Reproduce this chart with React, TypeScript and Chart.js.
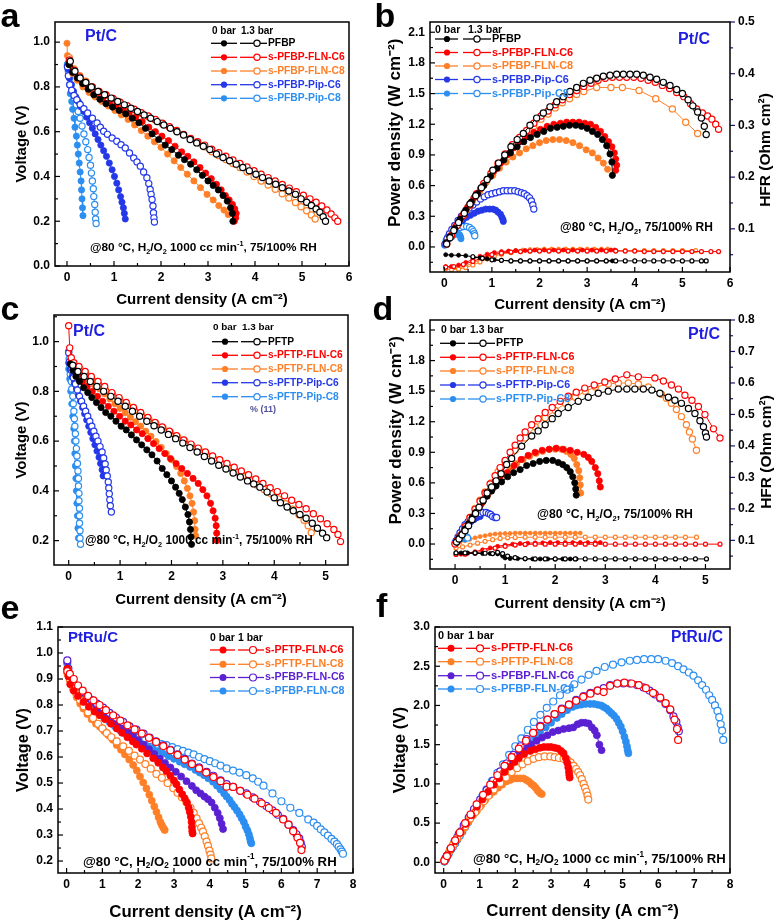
import React, { useEffect, useRef } from 'react';
import { Chart, registerables } from 'chart.js';
Chart.register(...registerables);

const FONT = '"Liberation Sans", Arial, Helvetica, sans-serif';
const BLACK = '#000000', RED = '#ff0000', ORANGE = '#ff7f27', BLUE = '#2438e8', LBLUE = '#2b8ef0', PURPLE = '#5a20d2', TAGBLUE = '#1f1fe0';

type Pt = [number, number];
type Seg = [string, number];

// ================= Panel a : V vs I (Pt/C, PFBP family) =================
const aK0: Pt[] = [[0.04,0.9],[0.12,0.865],[0.22,0.84],[0.33,0.815],[0.45,0.79],[0.57,0.765],[0.7,0.745],[0.83,0.725],[0.97,0.71],[1.11,0.695],[1.25,0.68],[1.39,0.66],[1.53,0.64],[1.67,0.615],[1.81,0.59],[1.95,0.565],[2.09,0.54],[2.23,0.52],[2.37,0.495],[2.5,0.475],[2.63,0.455],[2.76,0.43],[2.88,0.405],[3.0,0.38],[3.11,0.36],[3.22,0.34],[3.32,0.315],[3.41,0.29],[3.48,0.26],[3.52,0.235],[3.53,0.2]];
const aK1: Pt[] = [[0.07,0.915],[0.17,0.87],[0.28,0.84],[0.4,0.82],[0.52,0.8],[0.66,0.78],[0.8,0.765],[0.94,0.75],[1.08,0.735],[1.22,0.72],[1.36,0.705],[1.5,0.69],[1.64,0.675],[1.78,0.66],[1.92,0.645],[2.06,0.63],[2.2,0.615],[2.34,0.6],[2.48,0.585],[2.62,0.565],[2.76,0.55],[2.9,0.535],[3.04,0.52],[3.18,0.5],[3.32,0.485],[3.46,0.47],[3.6,0.455],[3.74,0.44],[3.88,0.425],[4.02,0.41],[4.16,0.395],[4.3,0.38],[4.44,0.365],[4.58,0.35],[4.72,0.335],[4.86,0.32],[4.98,0.3],[5.1,0.285],[5.2,0.27],[5.3,0.255],[5.38,0.24],[5.45,0.22],[5.5,0.2]];
const aR0: Pt[] = [[0.04,0.91],[0.13,0.87],[0.24,0.84],[0.36,0.815],[0.49,0.79],[0.62,0.77],[0.76,0.75],[0.9,0.73],[1.04,0.715],[1.18,0.7],[1.32,0.685],[1.46,0.665],[1.6,0.645],[1.74,0.62],[1.88,0.6],[2.02,0.58],[2.16,0.56],[2.3,0.535],[2.44,0.51],[2.57,0.49],[2.7,0.465],[2.83,0.44],[2.95,0.415],[3.07,0.39],[3.18,0.365],[3.28,0.34],[3.37,0.315],[3.45,0.295],[3.52,0.275],[3.57,0.255],[3.6,0.235],[3.59,0.215],[3.56,0.2]];
const aR1: Pt[] = [[0.05,0.92],[0.15,0.875],[0.27,0.845],[0.4,0.82],[0.54,0.8],[0.68,0.78],[0.83,0.765],[0.98,0.748],[1.13,0.732],[1.28,0.716],[1.43,0.7],[1.58,0.685],[1.73,0.67],[1.88,0.655],[2.03,0.638],[2.18,0.622],[2.33,0.605],[2.48,0.588],[2.63,0.57],[2.78,0.555],[2.93,0.54],[3.08,0.522],[3.23,0.506],[3.38,0.49],[3.53,0.474],[3.68,0.458],[3.83,0.442],[3.98,0.426],[4.13,0.41],[4.28,0.395],[4.43,0.38],[4.58,0.364],[4.73,0.348],[4.88,0.332],[5.03,0.316],[5.17,0.3],[5.3,0.285],[5.42,0.268],[5.53,0.25],[5.62,0.232],[5.7,0.215],[5.76,0.2]];
const aO0: Pt[] = [[0,0.995],[0.01,0.94],[0.04,0.9],[0.12,0.86],[0.22,0.83],[0.34,0.8],[0.47,0.775],[0.6,0.755],[0.74,0.735],[0.88,0.715],[1.02,0.695],[1.16,0.675],[1.3,0.655],[1.44,0.63],[1.58,0.605],[1.72,0.58],[1.86,0.555],[2.0,0.53],[2.14,0.5],[2.28,0.47],[2.42,0.44],[2.56,0.41],[2.7,0.38],[2.84,0.35],[2.98,0.32],[3.11,0.295],[3.23,0.27],[3.34,0.25],[3.43,0.23]];
const aO1: Pt[] = [[0.05,0.93],[0.15,0.88],[0.27,0.85],[0.4,0.825],[0.54,0.8],[0.68,0.78],[0.83,0.762],[0.98,0.745],[1.13,0.728],[1.28,0.712],[1.43,0.697],[1.58,0.682],[1.73,0.667],[1.88,0.652],[2.03,0.636],[2.18,0.62],[2.33,0.604],[2.48,0.587],[2.63,0.568],[2.78,0.55],[2.93,0.532],[3.08,0.51],[3.23,0.493],[3.38,0.476],[3.53,0.458],[3.68,0.44],[3.83,0.42],[3.98,0.4],[4.13,0.38],[4.28,0.362],[4.43,0.343],[4.58,0.323],[4.72,0.304],[4.86,0.284],[4.98,0.265],[5.1,0.247],[5.2,0.228],[5.28,0.21]];
const aB0: Pt[] = [[0.02,0.88],[0.05,0.84],[0.09,0.81],[0.14,0.78],[0.19,0.755],[0.24,0.735],[0.3,0.71],[0.36,0.69],[0.42,0.665],[0.48,0.64],[0.54,0.615],[0.6,0.59],[0.66,0.565],[0.72,0.54],[0.78,0.515],[0.84,0.49],[0.9,0.46],[0.96,0.43],[1.01,0.4],[1.06,0.37],[1.1,0.34],[1.14,0.31],[1.17,0.285],[1.2,0.26],[1.22,0.235],[1.24,0.21]];
const aB1: Pt[] = [[0.01,0.89],[0.03,0.85],[0.06,0.81],[0.1,0.785],[0.15,0.762],[0.21,0.743],[0.28,0.722],[0.36,0.703],[0.44,0.684],[0.54,0.66],[0.64,0.639],[0.71,0.62],[0.78,0.602],[0.86,0.588],[0.96,0.572],[1.06,0.557],[1.15,0.542],[1.24,0.527],[1.33,0.505],[1.42,0.483],[1.49,0.465],[1.56,0.446],[1.63,0.42],[1.7,0.394],[1.74,0.368],[1.77,0.342],[1.79,0.32],[1.81,0.297],[1.83,0.268],[1.84,0.238],[1.85,0.215],[1.86,0.196]];
const aL0: Pt[] = [[0.01,0.89],[0.03,0.85],[0.05,0.81],[0.07,0.77],[0.1,0.735],[0.12,0.7],[0.15,0.66],[0.17,0.62],[0.2,0.58],[0.22,0.54],[0.24,0.5],[0.26,0.46],[0.28,0.42],[0.3,0.38],[0.31,0.34],[0.32,0.3],[0.33,0.26],[0.34,0.225]];
const aL1: Pt[] = [[0.01,0.9],[0.03,0.87],[0.06,0.84],[0.09,0.81],[0.12,0.78],[0.16,0.75],[0.2,0.72],[0.24,0.69],[0.28,0.66],[0.32,0.625],[0.36,0.59],[0.4,0.555],[0.44,0.52],[0.47,0.485],[0.5,0.45],[0.52,0.415],[0.54,0.38],[0.56,0.345],[0.57,0.31],[0.59,0.275],[0.6,0.24],[0.61,0.21],[0.62,0.19]];

// ================= Panel b : P vs I + HFR =================
const bK0: Pt[] = [[0.04,0.04],[0.12,0.1],[0.22,0.18],[0.33,0.27],[0.45,0.36],[0.57,0.44],[0.7,0.52],[0.83,0.6],[0.97,0.69],[1.11,0.77],[1.25,0.85],[1.39,0.92],[1.53,0.98],[1.67,1.03],[1.81,1.07],[1.95,1.1],[2.09,1.13],[2.23,1.16],[2.37,1.17],[2.5,1.18],[2.63,1.19],[2.76,1.19],[2.88,1.18],[3.0,1.16],[3.11,1.13],[3.22,1.1],[3.32,1.05],[3.41,0.99],[3.48,0.91],[3.52,0.83],[3.53,0.7]];
const bK1: Pt[] = [[0.05,0.03],[0.12,0.09],[0.2,0.16],[0.3,0.24],[0.42,0.33],[0.54,0.42],[0.66,0.5],[0.78,0.58],[0.9,0.66],[1.02,0.75],[1.14,0.82],[1.27,0.9],[1.4,0.98],[1.53,1.05],[1.66,1.11],[1.8,1.19],[1.94,1.26],[2.08,1.31],[2.22,1.37],[2.36,1.42],[2.5,1.47],[2.64,1.52],[2.78,1.56],[2.92,1.6],[3.06,1.63],[3.2,1.65],[3.34,1.67],[3.48,1.68],[3.62,1.69],[3.76,1.69],[3.9,1.69],[4.04,1.69],[4.18,1.68],[4.32,1.66],[4.46,1.64],[4.6,1.61],[4.74,1.58],[4.88,1.54],[5.0,1.5],[5.12,1.44],[5.22,1.38],[5.32,1.32],[5.4,1.26],[5.46,1.18],[5.5,1.1]];
const bR0: Pt[] = [[0.04,0.04],[0.13,0.11],[0.24,0.2],[0.36,0.29],[0.49,0.39],[0.62,0.48],[0.76,0.57],[0.9,0.66],[1.04,0.74],[1.18,0.82],[1.32,0.9],[1.46,0.97],[1.6,1.03],[1.74,1.08],[1.88,1.12],[2.02,1.15],[2.16,1.18],[2.3,1.2],[2.44,1.21],[2.57,1.22],[2.7,1.22],[2.83,1.22],[2.95,1.21],[3.07,1.2],[3.18,1.17],[3.28,1.13],[3.37,1.08],[3.45,1.03],[3.52,0.98],[3.57,0.92],[3.6,0.86],[3.62,0.8],[3.6,0.75]];
const bR1: Pt[] = [[0.05,0.03],[0.15,0.11],[0.27,0.21],[0.4,0.31],[0.54,0.41],[0.68,0.52],[0.83,0.62],[0.98,0.72],[1.13,0.82],[1.28,0.91],[1.43,1.0],[1.58,1.07],[1.73,1.14],[1.88,1.21],[2.03,1.28],[2.18,1.33],[2.33,1.39],[2.48,1.44],[2.63,1.49],[2.78,1.53],[2.93,1.57],[3.08,1.6],[3.23,1.63],[3.38,1.65],[3.53,1.66],[3.68,1.66],[3.83,1.66],[3.98,1.66],[4.13,1.65],[4.28,1.63],[4.43,1.61],[4.58,1.58],[4.73,1.55],[4.88,1.51],[5.03,1.47],[5.17,1.4],[5.3,1.35],[5.42,1.31],[5.53,1.28],[5.62,1.25],[5.7,1.2],[5.76,1.15]];
const bO0: Pt[] = [[0.04,0.04],[0.12,0.1],[0.22,0.18],[0.34,0.27],[0.47,0.36],[0.6,0.45],[0.74,0.54],[0.88,0.63],[1.02,0.7],[1.16,0.77],[1.3,0.83],[1.44,0.88],[1.58,0.92],[1.72,0.96],[1.86,0.99],[2.0,1.02],[2.14,1.04],[2.28,1.05],[2.42,1.05],[2.56,1.04],[2.7,1.02],[2.84,0.99],[2.98,0.95],[3.11,0.92],[3.23,0.87],[3.34,0.82],[3.43,0.76]];
const bO1: Pt[] = [[0.05,0.03],[0.15,0.11],[0.27,0.21],[0.4,0.31],[0.54,0.41],[0.68,0.51],[0.83,0.61],[0.98,0.71],[1.13,0.8],[1.28,0.89],[1.43,0.98],[1.58,1.05],[1.73,1.12],[1.88,1.18],[2.03,1.25],[2.18,1.3],[2.33,1.36],[2.48,1.41],[2.63,1.45],[2.78,1.49],[2.93,1.52],[3.2,1.56],[3.5,1.56],[3.74,1.56],[4.09,1.53],[4.44,1.45],[4.79,1.35],[5.07,1.22],[5.32,1.11]];
const bB0: Pt[] = [[0.02,0.03],[0.06,0.07],[0.11,0.11],[0.17,0.15],[0.24,0.19],[0.31,0.23],[0.39,0.26],[0.47,0.29],[0.55,0.31],[0.63,0.33],[0.71,0.35],[0.79,0.36],[0.87,0.37],[0.95,0.37],[1.02,0.37],[1.08,0.36],[1.13,0.34],[1.18,0.32],[1.21,0.29],[1.23,0.27],[1.24,0.25]];
const bB1: Pt[] = [[0.02,0.03],[0.06,0.08],[0.11,0.13],[0.16,0.17],[0.22,0.21],[0.29,0.26],[0.36,0.3],[0.44,0.34],[0.52,0.38],[0.6,0.41],[0.68,0.44],[0.76,0.47],[0.84,0.49],[0.92,0.51],[1.0,0.52],[1.08,0.53],[1.16,0.54],[1.24,0.55],[1.32,0.55],[1.4,0.55],[1.48,0.55],[1.55,0.54],[1.62,0.53],[1.68,0.52],[1.74,0.5],[1.79,0.48],[1.83,0.45],[1.86,0.41],[1.88,0.37]];
const bL0: Pt[] = [[0.01,0.02],[0.05,0.05],[0.1,0.08],[0.16,0.1],[0.22,0.12],[0.28,0.13],[0.32,0.12],[0.34,0.1],[0.35,0.08]];
const bL1: Pt[] = [[0.01,0.02],[0.04,0.06],[0.08,0.1],[0.13,0.13],[0.19,0.16],[0.26,0.18],[0.33,0.19],[0.4,0.2],[0.47,0.2],[0.53,0.19],[0.58,0.17],[0.61,0.15],[0.63,0.13],[0.64,0.11]];
const bHK0: Pt[] = [[0.03,0.05],[0.15,0.049],[0.3,0.049],[0.45,0.048],[0.6,0.046],[0.75,0.044],[0.9,0.042],[1.05,0.04],[1.2,0.039],[1.4,0.038],[1.6,0.038],[1.8,0.038],[2.0,0.038],[2.2,0.038],[2.4,0.038],[2.6,0.038],[2.8,0.038],[3.0,0.038],[3.2,0.038],[3.4,0.038],[3.53,0.038]];
const bHK1: Pt[] = [[0.6,0.046],[0.8,0.043],[1.0,0.04],[1.2,0.039],[1.4,0.038],[1.6,0.038],[1.8,0.038],[2.0,0.038],[2.2,0.038],[2.4,0.038],[2.6,0.038],[2.8,0.038],[3.0,0.038],[3.2,0.038],[3.4,0.038],[3.6,0.038],[3.8,0.038],[4.0,0.038],[4.2,0.038],[4.4,0.038],[4.6,0.038],[4.8,0.038],[5.0,0.038],[5.2,0.038],[5.4,0.038],[5.5,0.038]];
const bHR0: Pt[] = [[0.03,0.027],[0.15,0.027],[0.3,0.03],[0.45,0.035],[0.6,0.041],[0.75,0.047],[0.9,0.051],[1.05,0.054],[1.2,0.056],[1.35,0.057],[1.5,0.058],[1.7,0.058],[1.9,0.059],[2.1,0.059],[2.3,0.059],[2.5,0.059],[2.7,0.059],[2.9,0.059],[3.1,0.059],[3.3,0.059],[3.5,0.059],[3.58,0.059]];
const bHR1: Pt[] = [[0.03,0.026],[0.2,0.027],[0.4,0.031],[0.6,0.037],[0.8,0.044],[1.0,0.05],[1.2,0.053],[1.4,0.055],[1.6,0.056],[1.8,0.057],[2.0,0.057],[2.2,0.057],[2.4,0.057],[2.6,0.057],[2.8,0.057],[3.0,0.057],[3.2,0.057],[3.4,0.057],[3.6,0.057],[3.8,0.057],[4.0,0.057],[4.2,0.056],[4.4,0.056],[4.6,0.056],[4.8,0.056],[5.0,0.056],[5.2,0.056],[5.4,0.056],[5.6,0.056],[5.76,0.056]];
const bHO0: Pt[] = [[0.03,0.022],[0.15,0.022],[0.3,0.024],[0.45,0.028],[0.6,0.034],[0.75,0.04],[0.9,0.046],[1.05,0.05],[1.2,0.053],[1.35,0.056],[1.5,0.058],[1.65,0.059],[1.8,0.06],[1.95,0.06],[2.1,0.061],[2.25,0.061],[2.4,0.061],[2.55,0.061],[2.7,0.061],[2.85,0.061],[3.0,0.061],[3.15,0.061],[3.3,0.061],[3.43,0.061]];
const bHO1: Pt[] = [[0.15,0.021],[0.3,0.022],[0.45,0.025],[0.6,0.03],[0.75,0.036],[0.9,0.042],[1.05,0.047],[1.2,0.051],[1.4,0.054],[1.6,0.056],[1.8,0.057],[2.0,0.058],[2.2,0.058],[2.4,0.058],[2.6,0.058],[2.8,0.058],[3.0,0.058],[3.2,0.058],[3.4,0.058],[3.6,0.058],[3.8,0.058],[4.0,0.058],[4.2,0.058],[4.4,0.058],[4.6,0.058],[4.8,0.058],[5.0,0.058],[5.28,0.058]];

// ================= Panel c : V vs I (Pt/C, PFTP family) =================
const cK0: Pt[] = [[0.03,0.91],[0.08,0.885],[0.14,0.86],[0.21,0.84],[0.29,0.815],[0.37,0.795],[0.45,0.775],[0.54,0.755],[0.63,0.735],[0.72,0.715],[0.82,0.7],[0.92,0.68],[1.02,0.66],[1.12,0.645],[1.22,0.625],[1.32,0.605],[1.42,0.585],[1.52,0.565],[1.62,0.545],[1.72,0.52],[1.82,0.49],[1.91,0.465],[2.0,0.44],[2.08,0.415],[2.15,0.39],[2.21,0.365],[2.27,0.335],[2.32,0.305],[2.35,0.275],[2.37,0.245],[2.38,0.215],[2.39,0.185]];
const cK1: Pt[] = [[0.08,0.905],[0.18,0.88],[0.3,0.86],[0.42,0.84],[0.55,0.82],[0.68,0.8],[0.82,0.78],[0.96,0.76],[1.1,0.74],[1.24,0.72],[1.38,0.7],[1.52,0.68],[1.66,0.662],[1.8,0.645],[1.94,0.627],[2.08,0.61],[2.22,0.592],[2.36,0.574],[2.5,0.556],[2.64,0.538],[2.78,0.52],[2.92,0.503],[3.06,0.488],[3.2,0.472],[3.34,0.456],[3.48,0.44],[3.6,0.428],[3.72,0.415],[3.86,0.395],[4.0,0.372],[4.12,0.352],[4.25,0.335],[4.37,0.32],[4.5,0.305],[4.62,0.29],[4.74,0.27],[4.84,0.25],[4.94,0.23],[5.02,0.212]];
const cR0: Pt[] = [[0.04,0.915],[0.1,0.89],[0.18,0.865],[0.27,0.84],[0.36,0.82],[0.46,0.8],[0.56,0.78],[0.66,0.76],[0.77,0.74],[0.88,0.72],[0.99,0.7],[1.1,0.68],[1.21,0.665],[1.32,0.645],[1.43,0.63],[1.54,0.61],[1.65,0.59],[1.76,0.57],[1.87,0.55],[1.98,0.53],[2.09,0.51],[2.2,0.49],[2.31,0.47],[2.42,0.45],[2.52,0.43],[2.61,0.405],[2.69,0.38],[2.76,0.35],[2.81,0.32],[2.85,0.29],[2.87,0.26],[2.88,0.23],[2.88,0.2]];
const cR1: Pt[] = [[0,1.064],[0.02,0.975],[0.05,0.935],[0.1,0.915],[0.2,0.9],[0.32,0.88],[0.44,0.86],[0.57,0.84],[0.7,0.82],[0.84,0.795],[0.98,0.775],[1.12,0.755],[1.26,0.735],[1.4,0.715],[1.54,0.695],[1.68,0.675],[1.82,0.657],[1.96,0.64],[2.1,0.622],[2.24,0.605],[2.38,0.588],[2.52,0.572],[2.66,0.556],[2.8,0.54],[2.94,0.525],[3.08,0.51],[3.22,0.495],[3.36,0.48],[3.5,0.465],[3.64,0.448],[3.78,0.43],[3.92,0.413],[4.06,0.397],[4.2,0.38],[4.34,0.362],[4.48,0.345],[4.62,0.328],[4.76,0.308],[4.9,0.288],[5.03,0.268],[5.16,0.245],[5.24,0.225],[5.29,0.196]];
const cO0: Pt[] = [[0.1,0.9],[0.2,0.88],[0.3,0.86],[0.4,0.843],[0.5,0.826],[0.6,0.81],[0.7,0.79],[0.8,0.77],[0.9,0.75],[1.0,0.732],[1.1,0.714],[1.2,0.696],[1.3,0.678],[1.4,0.66],[1.5,0.64],[1.6,0.62],[1.7,0.598],[1.8,0.575],[1.9,0.55],[2.0,0.525],[2.1,0.498],[2.18,0.47],[2.25,0.44],[2.31,0.41],[2.36,0.38],[2.4,0.35],[2.43,0.315],[2.45,0.28],[2.46,0.245],[2.47,0.22]];
const cO1: Pt[] = [[0.1,0.9],[0.22,0.89],[0.33,0.87],[0.45,0.85],[0.58,0.83],[0.72,0.805],[0.86,0.785],[1.0,0.765],[1.14,0.745],[1.28,0.725],[1.42,0.705],[1.56,0.687],[1.7,0.67],[1.84,0.652],[1.98,0.635],[2.12,0.617],[2.26,0.6],[2.4,0.582],[2.54,0.565],[2.68,0.548],[2.82,0.53],[2.96,0.513],[3.1,0.496],[3.24,0.478],[3.38,0.46],[3.52,0.442],[3.66,0.424],[3.8,0.406],[3.94,0.388],[4.08,0.368],[4.22,0.348],[4.36,0.326],[4.48,0.304],[4.58,0.282],[4.66,0.26],[4.72,0.232]];
const cB0: Pt[] = [[0,0.915],[0.03,0.89],[0.07,0.86],[0.11,0.835],[0.15,0.81],[0.19,0.785],[0.23,0.76],[0.27,0.735],[0.31,0.71],[0.35,0.685],[0.39,0.66],[0.43,0.635],[0.47,0.61],[0.51,0.585],[0.55,0.56],[0.59,0.535],[0.62,0.51],[0.65,0.485],[0.67,0.46]];
const cB1: Pt[] = [[0,0.955],[0.02,0.92],[0.05,0.885],[0.09,0.855],[0.13,0.83],[0.17,0.805],[0.21,0.78],[0.25,0.76],[0.29,0.74],[0.33,0.72],[0.37,0.7],[0.41,0.68],[0.45,0.66],[0.49,0.64],[0.53,0.62],[0.57,0.6],[0.61,0.578],[0.65,0.556],[0.68,0.532],[0.71,0.508],[0.73,0.484],[0.75,0.46],[0.77,0.436],[0.78,0.412],[0.79,0.388],[0.8,0.364],[0.81,0.34],[0.83,0.315]];
const cL0: Pt[] = [[0,0.89],[0.02,0.85],[0.04,0.8],[0.06,0.75],[0.08,0.7],[0.1,0.65],[0.11,0.6],[0.12,0.55],[0.13,0.5],[0.14,0.45],[0.15,0.4],[0.16,0.35],[0.17,0.3],[0.18,0.25],[0.19,0.21]];
const cL1: Pt[] = [[0,0.96],[0.01,0.93],[0.02,0.9],[0.03,0.87],[0.05,0.84],[0.06,0.81],[0.08,0.78],[0.09,0.75],[0.1,0.72],[0.11,0.69],[0.12,0.66],[0.13,0.63],[0.14,0.6],[0.15,0.57],[0.16,0.54],[0.17,0.51],[0.18,0.48],[0.19,0.45],[0.19,0.42],[0.2,0.39],[0.2,0.36],[0.21,0.33],[0.21,0.3],[0.21,0.27],[0.22,0.24],[0.22,0.21],[0.23,0.185]];

// ================= Panel d : P vs I + HFR =================
const dK0: Pt[] = [[0.03,0.02],[0.08,0.06],[0.14,0.1],[0.2,0.15],[0.27,0.2],[0.34,0.26],[0.41,0.31],[0.48,0.36],[0.56,0.42],[0.64,0.47],[0.73,0.52],[0.82,0.57],[0.93,0.61],[1.05,0.66],[1.17,0.7],[1.3,0.73],[1.43,0.77],[1.56,0.79],[1.69,0.81],[1.82,0.82],[1.95,0.82],[2.06,0.8],[2.15,0.78],[2.23,0.75],[2.3,0.71],[2.35,0.66],[2.39,0.6],[2.41,0.54],[2.42,0.48]];
const dK1: Pt[] = [[0.03,0.02],[0.08,0.05],[0.14,0.09],[0.2,0.13],[0.27,0.18],[0.34,0.24],[0.41,0.3],[0.48,0.36],[0.56,0.43],[0.64,0.5],[0.73,0.56],[0.82,0.62],[0.92,0.69],[1.03,0.78],[1.13,0.84],[1.33,0.96],[1.53,1.06],[1.66,1.11],[1.8,1.17],[1.94,1.23],[2.06,1.28],[2.26,1.34],[2.46,1.4],[2.66,1.44],[2.86,1.48],[3.06,1.5],[3.26,1.52],[3.43,1.52],[3.59,1.52],[3.76,1.52],[3.93,1.51],[4.09,1.48],[4.26,1.44],[4.39,1.41],[4.52,1.38],[4.66,1.33],[4.79,1.28],[4.89,1.21],[4.96,1.15],[5.0,1.09],[5.02,1.05]];
const dR0: Pt[] = [[0.03,0.02],[0.1,0.07],[0.2,0.15],[0.3,0.23],[0.4,0.31],[0.52,0.39],[0.64,0.47],[0.76,0.55],[0.9,0.63],[1.04,0.7],[1.18,0.77],[1.32,0.83],[1.46,0.87],[1.6,0.9],[1.74,0.92],[1.88,0.93],[2.02,0.94],[2.16,0.93],[2.3,0.92],[2.44,0.9],[2.57,0.88],[2.66,0.85],[2.73,0.81],[2.8,0.75],[2.85,0.69],[2.88,0.62],[2.9,0.56]];
const dR1: Pt[] = [[0,0],[0.05,0.04],[0.1,0.08],[0.2,0.17],[0.3,0.26],[0.4,0.34],[0.5,0.42],[0.6,0.5],[0.7,0.59],[0.8,0.67],[0.9,0.75],[1.0,0.82],[1.1,0.9],[1.2,0.97],[1.3,1.04],[1.4,1.1],[1.53,1.17],[1.66,1.23],[1.8,1.29],[1.94,1.34],[2.1,1.4],[2.26,1.45],[2.42,1.49],[2.59,1.53],[2.78,1.56],[2.99,1.59],[3.2,1.62],[3.43,1.66],[3.66,1.64],[3.99,1.63],[4.16,1.6],[4.32,1.56],[4.46,1.52],[4.59,1.46],[4.73,1.41],[4.86,1.35],[4.99,1.27],[5.16,1.13],[5.29,1.04]];
const dO0: Pt[] = [[0.03,0.02],[0.1,0.07],[0.18,0.13],[0.27,0.2],[0.36,0.27],[0.45,0.34],[0.55,0.41],[0.65,0.48],[0.76,0.55],[0.87,0.62],[0.99,0.68],[1.11,0.74],[1.23,0.79],[1.36,0.83],[1.49,0.86],[1.62,0.89],[1.75,0.91],[1.88,0.93],[2.0,0.93],[2.12,0.93],[2.22,0.91],[2.31,0.88],[2.38,0.84],[2.43,0.78],[2.47,0.72],[2.49,0.65],[2.5,0.58],[2.51,0.5]];
const dO1: Pt[] = [[0.03,0.02],[0.1,0.08],[0.2,0.17],[0.3,0.26],[0.4,0.35],[0.5,0.43],[0.6,0.51],[0.72,0.6],[0.86,0.71],[1.0,0.8],[1.2,0.92],[1.4,1.04],[1.6,1.15],[1.8,1.24],[2.0,1.31],[2.2,1.38],[2.4,1.44],[2.6,1.5],[2.8,1.54],[3.06,1.57],[3.26,1.58],[3.46,1.58],[3.66,1.57],[3.86,1.54],[4.12,1.47],[4.22,1.43],[4.32,1.38],[4.42,1.32],[4.52,1.25],[4.62,1.17],[4.68,1.1],[4.74,1.03],[4.82,0.92]];
const dB0: Pt[] = [[0.02,0.02],[0.06,0.05],[0.1,0.09],[0.15,0.13],[0.2,0.16],[0.26,0.19],[0.32,0.22],[0.38,0.24],[0.44,0.26],[0.5,0.27]];
const dB1: Pt[] = [[0.02,0.03],[0.06,0.07],[0.1,0.11],[0.15,0.15],[0.2,0.19],[0.26,0.22],[0.32,0.25],[0.38,0.27],[0.44,0.29],[0.5,0.3],[0.56,0.31],[0.62,0.31],[0.67,0.3],[0.71,0.29],[0.75,0.27],[0.8,0.26],[0.83,0.26]];
const dL0: Pt[] = [[0,0.005],[0.04,0.03],[0.08,0.05],[0.12,0.06],[0.16,0.06],[0.19,0.05]];
const dL1: Pt[] = [[0,0.01],[0.04,0.04],[0.08,0.06],[0.12,0.07],[0.16,0.075],[0.2,0.075],[0.23,0.07],[0.25,0.06]];
const dHK0: Pt[] = [[0.02,0.06],[0.12,0.06],[0.25,0.06],[0.4,0.059],[0.55,0.058],[0.7,0.058],[0.85,0.057],[0.95,0.05],[1.0,0.044],[1.1,0.042],[1.25,0.042],[1.4,0.041],[1.55,0.041],[1.7,0.041],[1.85,0.041],[2.0,0.041],[2.15,0.041],[2.3,0.041],[2.42,0.041]];
const dHK1: Pt[] = [[0.02,0.06],[0.2,0.06],[0.4,0.06],[0.6,0.059],[0.75,0.058],[0.85,0.062],[0.95,0.058],[1.05,0.05],[1.2,0.045],[1.4,0.042],[1.6,0.041],[1.8,0.041],[2.0,0.041],[2.2,0.041],[2.4,0.041],[2.6,0.041],[2.8,0.041],[3.0,0.041],[3.2,0.041],[3.4,0.041],[3.6,0.041],[3.8,0.041],[4.0,0.041],[4.2,0.041],[4.4,0.041],[4.6,0.041],[4.8,0.041],[5.02,0.041]];
const dHR0: Pt[] = [[0.02,0.055],[0.12,0.056],[0.25,0.059],[0.4,0.064],[0.55,0.07],[0.7,0.076],[0.85,0.081],[1.0,0.085],[1.15,0.088],[1.3,0.09],[1.45,0.091],[1.6,0.092],[1.75,0.092],[1.9,0.093],[2.05,0.093],[2.2,0.093],[2.35,0.093],[2.5,0.093],[2.65,0.093],[2.8,0.093],[2.9,0.093]];
const dHR1: Pt[] = [[0.02,0.055],[0.2,0.056],[0.4,0.06],[0.6,0.067],[0.8,0.075],[1.0,0.081],[1.2,0.085],[1.4,0.087],[1.6,0.088],[1.8,0.088],[2.0,0.088],[2.2,0.088],[2.4,0.088],[2.6,0.088],[2.8,0.088],[3.0,0.088],[3.2,0.088],[3.4,0.088],[3.6,0.088],[3.8,0.088],[4.0,0.088],[4.2,0.088],[4.4,0.088],[4.6,0.088],[4.8,0.088],[5.0,0.088],[5.29,0.088]];
const dHO0: Pt[] = [[0.02,0.092],[0.1,0.094],[0.2,0.099],[0.3,0.104],[0.4,0.108],[0.5,0.112],[0.6,0.115],[0.7,0.118],[0.8,0.12],[0.9,0.121],[1.0,0.122],[1.1,0.122],[1.2,0.123],[1.3,0.123],[1.4,0.123],[1.5,0.123],[1.6,0.123],[1.7,0.123],[1.8,0.123],[1.9,0.123],[2.0,0.123],[2.1,0.123],[2.2,0.123],[2.3,0.123],[2.4,0.123],[2.5,0.123]];
const dHO1: Pt[] = [[0.02,0.076],[0.15,0.079],[0.3,0.085],[0.45,0.091],[0.6,0.097],[0.75,0.102],[0.9,0.106],[1.05,0.108],[1.2,0.109],[1.4,0.11],[1.6,0.11],[1.8,0.11],[2.0,0.11],[2.2,0.11],[2.4,0.11],[2.6,0.11],[2.8,0.11],[3.0,0.11],[3.2,0.11],[3.4,0.11],[3.6,0.11],[3.8,0.11],[4.0,0.11],[4.2,0.11],[4.4,0.11],[4.6,0.11],[4.82,0.11]];

// ================= Panel e : V vs I (PtRu/C) =================
const eR0: Pt[] = [[0.02,0.94],[0.05,0.91],[0.1,0.88],[0.2,0.855],[0.32,0.835],[0.47,0.812],[0.62,0.793],[0.78,0.775],[0.93,0.761],[1.08,0.745],[1.24,0.728],[1.4,0.71],[1.55,0.693],[1.7,0.676],[1.85,0.66],[1.95,0.648],[2.1,0.632],[2.25,0.614],[2.42,0.595],[2.56,0.578],[2.69,0.56],[2.79,0.545],[2.9,0.528],[3.0,0.51],[3.07,0.495],[3.15,0.475],[3.23,0.457],[3.3,0.441],[3.36,0.425],[3.41,0.405],[3.44,0.389],[3.47,0.37],[3.49,0.35],[3.5,0.33],[3.51,0.315],[3.52,0.306]];
const eR1: Pt[] = [[0.02,0.93],[0.09,0.92],[0.2,0.9],[0.32,0.875],[0.45,0.855],[0.6,0.835],[0.75,0.818],[0.92,0.8],[1.1,0.78],[1.3,0.76],[1.5,0.74],[1.7,0.722],[1.9,0.706],[2.1,0.69],[2.3,0.674],[2.5,0.658],[2.7,0.642],[2.9,0.626],[3.1,0.608],[3.3,0.59],[3.5,0.573],[3.7,0.556],[3.9,0.54],[4.1,0.523],[4.3,0.507],[4.47,0.486],[4.65,0.485],[4.85,0.47],[5.05,0.455],[5.25,0.44],[5.45,0.422],[5.65,0.404],[5.85,0.385],[6.05,0.36],[6.2,0.34],[6.33,0.315],[6.45,0.29],[6.52,0.27],[6.56,0.242]];
const eO0: Pt[] = [[0.02,0.92],[0.09,0.895],[0.18,0.86],[0.28,0.83],[0.38,0.805],[0.47,0.786],[0.58,0.765],[0.7,0.745],[0.82,0.728],[0.93,0.716],[1.05,0.7],[1.17,0.684],[1.29,0.666],[1.4,0.646],[1.52,0.628],[1.63,0.61],[1.75,0.59],[1.86,0.569],[1.96,0.548],[2.05,0.525],[2.14,0.502],[2.23,0.479],[2.31,0.455],[2.38,0.432],[2.45,0.41],[2.51,0.389],[2.57,0.368],[2.62,0.35],[2.66,0.338],[2.7,0.328],[2.74,0.319]];
const eO1: Pt[] = [[0.02,0.93],[0.09,0.9],[0.17,0.875],[0.27,0.845],[0.37,0.82],[0.48,0.795],[0.6,0.772],[0.74,0.75],[0.88,0.728],[1.0,0.71],[1.12,0.692],[1.25,0.676],[1.4,0.66],[1.58,0.641],[1.74,0.624],[1.9,0.605],[2.05,0.59],[2.2,0.573],[2.35,0.555],[2.51,0.535],[2.66,0.52],[2.82,0.5],[2.98,0.48],[3.1,0.463],[3.22,0.445],[3.35,0.425],[3.46,0.405],[3.55,0.385],[3.63,0.364],[3.7,0.345],[3.76,0.328],[3.81,0.313],[3.86,0.295],[3.91,0.275],[3.95,0.258],[3.99,0.24],[4.02,0.225],[4.04,0.21]];
const eP0: Pt[] = [[0.02,0.966],[0.05,0.93],[0.1,0.9],[0.18,0.88],[0.27,0.87],[0.37,0.855],[0.48,0.84],[0.6,0.825],[0.72,0.81],[0.84,0.795],[0.96,0.782],[1.1,0.768],[1.25,0.752],[1.4,0.735],[1.55,0.718],[1.7,0.7],[1.85,0.683],[2.0,0.665],[2.15,0.648],[2.3,0.63],[2.45,0.612],[2.6,0.594],[2.75,0.577],[2.9,0.56],[3.05,0.543],[3.2,0.525],[3.35,0.507],[3.5,0.489],[3.62,0.472],[3.74,0.46],[3.85,0.448],[3.95,0.438],[4.05,0.425],[4.14,0.405],[4.22,0.385],[4.28,0.365],[4.33,0.343],[4.37,0.323]];
const eP1: Pt[] = [[0.02,0.972],[0.05,0.94],[0.1,0.91],[0.19,0.885],[0.3,0.865],[0.42,0.85],[0.56,0.835],[0.7,0.82],[0.85,0.805],[1.02,0.79],[1.2,0.77],[1.38,0.752],[1.58,0.735],[1.76,0.718],[1.95,0.705],[2.15,0.69],[2.32,0.675],[2.5,0.66],[2.7,0.645],[2.9,0.628],[3.1,0.61],[3.3,0.593],[3.5,0.575],[3.7,0.56],[3.91,0.543],[4.1,0.528],[4.3,0.51],[4.47,0.496],[4.65,0.485],[4.85,0.47],[5.02,0.46],[5.2,0.445],[5.4,0.428],[5.58,0.412],[5.75,0.395],[5.9,0.378],[6.05,0.362],[6.2,0.34],[6.33,0.319],[6.42,0.303],[6.5,0.287],[6.54,0.27],[6.57,0.255]];
const eL0: Pt[] = [[0.02,0.94],[0.05,0.914],[0.12,0.885],[0.2,0.86],[0.28,0.845],[0.37,0.831],[0.47,0.818],[0.58,0.805],[0.7,0.79],[0.82,0.775],[0.93,0.761],[1.05,0.75],[1.2,0.735],[1.35,0.718],[1.49,0.703],[1.64,0.69],[1.8,0.677],[1.95,0.665],[2.1,0.655],[2.25,0.645],[2.4,0.635],[2.55,0.623],[2.7,0.613],[2.85,0.603],[3.0,0.593],[3.16,0.582],[3.3,0.572],[3.45,0.562],[3.6,0.55],[3.72,0.54],[3.84,0.53],[3.96,0.518],[4.09,0.505],[4.2,0.49],[4.3,0.475],[4.4,0.46],[4.47,0.448],[4.55,0.435],[4.62,0.42],[4.69,0.408],[4.76,0.394],[4.83,0.38],[4.89,0.365],[4.95,0.35],[5.0,0.333],[5.05,0.318],[5.09,0.303],[5.12,0.288],[5.14,0.276],[5.16,0.268]];
const eL1: Pt[] = [[0.02,0.96],[0.05,0.92],[0.1,0.9],[0.18,0.88],[0.28,0.863],[0.4,0.845],[0.53,0.825],[0.66,0.81],[0.8,0.795],[0.95,0.785],[1.12,0.776],[1.3,0.755],[1.49,0.735],[1.67,0.712],[1.86,0.69],[2.05,0.678],[2.2,0.67],[2.33,0.665],[2.5,0.657],[2.65,0.65],[2.79,0.646],[2.95,0.638],[3.1,0.63],[3.25,0.624],[3.4,0.617],[3.55,0.61],[3.7,0.6],[3.85,0.592],[4.0,0.584],[4.15,0.576],[4.3,0.567],[4.47,0.556],[4.65,0.548],[4.83,0.54],[5.02,0.53],[5.2,0.518],[5.35,0.505],[5.5,0.49],[5.75,0.46],[6.0,0.43],[6.25,0.405],[6.5,0.385],[6.75,0.36],[6.9,0.348],[7.0,0.335],[7.1,0.322],[7.2,0.31],[7.3,0.298],[7.4,0.285],[7.48,0.275],[7.55,0.265],[7.6,0.255],[7.65,0.245],[7.69,0.236],[7.72,0.228]];

// ================= Panel f : P vs I (PtRu/C) =================
const fR0: Pt[] = [[0.02,0.02],[0.05,0.05],[0.1,0.09],[0.2,0.17],[0.32,0.27],[0.47,0.38],[0.62,0.49],[0.78,0.6],[0.93,0.71],[1.08,0.8],[1.24,0.9],[1.4,0.99],[1.55,1.07],[1.7,1.15],[1.85,1.22],[1.98,1.28],[2.1,1.33],[2.25,1.38],[2.42,1.42],[2.56,1.44],[2.69,1.46],[2.8,1.47],[2.91,1.47],[3.0,1.47],[3.1,1.46],[3.19,1.45],[3.28,1.42],[3.35,1.39],[3.41,1.33],[3.45,1.27],[3.48,1.21],[3.5,1.15],[3.51,1.11],[3.52,1.08]];
const fR1: Pt[] = [[0.02,0.02],[0.09,0.08],[0.2,0.18],[0.32,0.28],[0.45,0.38],[0.6,0.5],[0.75,0.61],[0.92,0.74],[1.1,0.86],[1.3,0.99],[1.5,1.11],[1.7,1.23],[1.9,1.34],[2.1,1.45],[2.3,1.55],[2.5,1.65],[2.7,1.73],[2.9,1.82],[3.1,1.89],[3.3,1.95],[3.5,2.01],[3.7,2.06],[3.9,2.11],[4.1,2.15],[4.3,2.19],[4.47,2.17],[4.65,2.25],[4.85,2.28],[5.05,2.29],[5.25,2.28],[5.45,2.26],[5.65,2.22],[5.85,2.16],[6.05,2.1],[6.2,2.03],[6.33,1.95],[6.45,1.82],[6.52,1.7],[6.55,1.56]];
const fO0: Pt[] = [[0.02,0.02],[0.09,0.08],[0.18,0.15],[0.28,0.23],[0.38,0.3],[0.47,0.37],[0.58,0.44],[0.7,0.52],[0.82,0.6],[0.93,0.66],[1.05,0.73],[1.17,0.8],[1.29,0.86],[1.4,0.9],[1.52,0.95],[1.63,0.99],[1.75,1.03],[1.86,1.05],[1.96,1.07],[2.05,1.07],[2.14,1.07],[2.23,1.07],[2.31,1.05],[2.38,1.03],[2.45,1.0],[2.51,0.98],[2.57,0.95],[2.62,0.92],[2.66,0.9],[2.7,0.88],[2.74,0.87]];
const fO1: Pt[] = [[0.02,0.02],[0.09,0.08],[0.17,0.15],[0.27,0.23],[0.37,0.3],[0.48,0.38],[0.6,0.46],[0.74,0.56],[0.88,0.64],[1.0,0.71],[1.12,0.78],[1.25,0.85],[1.4,0.93],[1.58,1.01],[1.74,1.08],[1.9,1.15],[2.05,1.2],[2.2,1.25],[2.35,1.29],[2.51,1.32],[2.66,1.34],[2.82,1.35],[2.98,1.35],[3.1,1.34],[3.22,1.33],[3.35,1.32],[3.46,1.3],[3.55,1.27],[3.63,1.23],[3.7,1.19],[3.76,1.15],[3.81,1.11],[3.86,1.06],[3.91,1.0],[3.95,0.95],[3.99,0.9],[4.02,0.85],[4.04,0.8]];
const fP0: Pt[] = [[0.02,0.02],[0.05,0.05],[0.1,0.09],[0.18,0.16],[0.27,0.23],[0.37,0.32],[0.48,0.4],[0.6,0.5],[0.72,0.58],[0.84,0.67],[0.96,0.75],[1.1,0.84],[1.25,0.94],[1.4,1.03],[1.55,1.11],[1.7,1.19],[1.85,1.26],[2.0,1.33],[2.15,1.39],[2.3,1.45],[2.45,1.5],[2.6,1.55],[2.75,1.59],[2.9,1.62],[3.05,1.66],[3.2,1.68],[3.35,1.7],[3.5,1.71],[3.62,1.72],[3.74,1.76],[3.85,1.78],[3.95,1.78],[4.05,1.77],[4.14,1.72],[4.22,1.68],[4.28,1.62],[4.35,1.5],[4.41,1.43]];
const fP1: Pt[] = [[0.02,0.02],[0.05,0.05],[0.1,0.09],[0.19,0.17],[0.3,0.26],[0.42,0.36],[0.56,0.47],[0.7,0.57],[0.85,0.68],[1.02,0.8],[1.2,0.92],[1.38,1.04],[1.58,1.16],[1.76,1.26],[1.95,1.37],[2.15,1.48],[2.32,1.57],[2.5,1.65],[2.7,1.74],[2.9,1.82],[3.1,1.89],[3.3,1.96],[3.5,2.01],[3.7,2.07],[3.91,2.12],[4.1,2.16],[4.3,2.19],[4.47,2.22],[4.65,2.26],[4.85,2.28],[5.02,2.28],[5.2,2.28],[5.4,2.26],[5.58,2.23],[5.75,2.19],[5.9,2.14],[6.05,2.09],[6.2,2.02],[6.33,1.94],[6.42,1.86],[6.5,1.79],[6.54,1.72],[6.57,1.67]];
const fL0: Pt[] = [[0.02,0.01],[0.06,0.05],[0.12,0.1],[0.2,0.16],[0.28,0.23],[0.37,0.3],[0.47,0.38],[0.58,0.47],[0.7,0.55],[0.82,0.64],[0.93,0.71],[1.05,0.79],[1.2,0.88],[1.35,0.96],[1.49,1.05],[1.64,1.12],[1.8,1.22],[1.95,1.29],[2.1,1.38],[2.25,1.45],[2.4,1.52],[2.55,1.59],[2.7,1.65],[2.85,1.72],[3.0,1.78],[3.16,1.84],[3.3,1.89],[3.45,1.94],[3.6,1.98],[3.72,2.0],[3.84,2.01],[3.96,2.02],[4.09,2.02],[4.2,2.02],[4.3,2.01],[4.4,2.0],[4.47,1.98],[4.55,1.96],[4.62,1.93],[4.69,1.9],[4.76,1.87],[4.83,1.83],[4.89,1.78],[4.95,1.73],[5.0,1.67],[5.05,1.6],[5.09,1.54],[5.12,1.48],[5.14,1.43],[5.16,1.39]];
const fL1: Pt[] = [[0.02,0.01],[0.06,0.04],[0.1,0.08],[0.15,0.12],[0.2,0.16],[0.26,0.2],[0.32,0.24],[0.38,0.29],[0.45,0.34],[0.52,0.39],[0.6,0.45],[0.68,0.51],[0.76,0.58],[0.86,0.66],[0.96,0.74],[1.08,0.84],[1.2,0.93],[1.35,1.04],[1.5,1.14],[1.66,1.25],[1.83,1.37],[2.0,1.48],[2.17,1.58],[2.35,1.69],[2.52,1.79],[2.7,1.88],[2.88,1.97],[3.06,2.05],[3.25,2.13],[3.45,2.2],[3.65,2.27],[3.85,2.33],[4.05,2.39],[4.27,2.44],[4.5,2.49],[4.73,2.52],[4.97,2.55],[5.2,2.57],[5.4,2.58],[5.6,2.59],[5.8,2.59],[5.99,2.59],[6.2,2.57],[6.38,2.54],[6.55,2.5],[6.7,2.46],[6.85,2.42],[6.98,2.38],[7.11,2.32],[7.22,2.26],[7.33,2.2],[7.42,2.13],[7.5,2.07],[7.58,2.0],[7.65,1.93],[7.7,1.85],[7.74,1.76],[7.78,1.68],[7.81,1.56]];

// ================= ticks & labels =================
const xTicks6 = [0, 1, 2, 3, 4, 5, 6];
const xMinor6 = [0.5, 1.5, 2.5, 3.5, 4.5, 5.5];
const xTicks5 = [0, 1, 2, 3, 4, 5];
const xMinor5 = [0.5, 1.5, 2.5, 3.5, 4.5];
const xTicks8 = [0, 1, 2, 3, 4, 5, 6, 7, 8];
const xMinor8 = [0.5, 1.5, 2.5, 3.5, 4.5, 5.5, 6.5, 7.5];
const aYTicks = [0, 0.2, 0.4, 0.6, 0.8, 1.0];
const aYMinor = [0.1, 0.3, 0.5, 0.7, 0.9];
const pwTicks = [0, 0.3, 0.6, 0.9, 1.2, 1.5, 1.8, 2.1];
const pwMinor = [-0.15, 0.15, 0.45, 0.75, 1.05, 1.35, 1.65, 1.95];
const bHfrTicks = [0.1, 0.2, 0.3, 0.4, 0.5];
const bHfrMinor = [0.05, 0.15, 0.25, 0.35, 0.45];
const cYTicks = [0.2, 0.4, 0.6, 0.8, 1.0];
const cYMinor = [0.3, 0.5, 0.7, 0.9, 1.1];
const dHfrTicks = [0.1, 0.2, 0.3, 0.4, 0.5, 0.6, 0.7, 0.8];
const dHfrMinor = [0.05, 0.15, 0.25, 0.35, 0.45, 0.55, 0.65, 0.75];
const eYTicks = [0.2, 0.3, 0.4, 0.5, 0.6, 0.7, 0.8, 0.9, 1.0, 1.1];
const eYMinor = [0.25, 0.35, 0.45, 0.55, 0.65, 0.75, 0.85, 0.95, 1.05];
const fYTicks = [0, 0.5, 1.0, 1.5, 2.0, 2.5, 3.0];
const fYMinor = [0.25, 0.75, 1.25, 1.75, 2.25, 2.75];

const X_TITLE = 'Current density (A cm⁻²)';
const V_TITLE = 'Voltage (V)';
const P_TITLE = '      Power density (W cm⁻²)';
const HFR_TITLE = 'HFR (Ohm cm²)';
const PFBP_LABELS = ['PFBP', 's-PFBP-FLN-C6', 's-PFBP-FLN-C8', 's-PFBP-Pip-C6', 's-PFBP-Pip-C8'];
const PFTP_LABELS = ['PFTP', 's-PFTP-FLN-C6', 's-PFTP-FLN-C8', 's-PFTP-Pip-C6', 's-PFTP-Pip-C8'];
const RU_LABELS = ['s-PFTP-FLN-C6', 's-PFTP-FLN-C8', 's-PFBP-FLN-C6', 's-PFBP-FLN-C8'];
const PT_COLORS = [BLACK, RED, ORANGE, BLUE, LBLUE];
const RU_COLORS = [RED, ORANGE, PURPLE, LBLUE];
const COND_LONG: Seg[] = [['@80 °C, H', 0], ['2', 1], ['/O', 0], ['2', 1], [' 1000 cc min', 0], ['-1', 2], [', 75/100% RH', 0]];
const COND_SHORT: Seg[] = [['@80 °C, H', 0], ['2', 1], ['/O', 0], ['2', 1], [', 75/100% RH', 0]];

// ================= panel specs =================
interface Axis { min: number; max: number; ticks: number[]; minor: number[]; dec: number }
interface Ser { d: Pt[]; c: string; open: boolean; y1?: boolean; small?: boolean }
interface Legend { h1: string; h2: string; h1x: number; h2x: number; hy: number; rows: number[]; labels: string[]; colors: string[]; f0: number; f1: number; fm: number; o0: number; o1: number; om: number; tx: number; size: number }
interface Panel {
  id: string; box: { l: number; t: number; w: number; h: number }; frame: { L: number; T: number; R: number; B: number };
  x: Axis; y: Axis; y1?: Axis; r: number;
  xTitle: string; xTitleY: number; xTitleSize: number;
  yTitle: string; yTitleX: number; yTitleSize: number;
  y1Title?: { text: string; x: number; y: number; size: number };
  series: Ser[]; legend: Legend;
  tag: { text: string; x: number; y: number; size: number };
  cond: { segs: Seg[]; x0: number; x1: number; y: number; size: number };
  extra?: { text: string; x: number; y: number; size: number; color: string }[];
}

const S = (d: Pt[], c: string, open: boolean, y1 = false, small = false): Ser => ({ d, c, open, y1, small });

const PANELS: Panel[] = [
  {
    id: 'a', box: { l: 0, t: 0, w: 388, h: 320 }, frame: { L: 55, T: 22, R: 349, B: 266 },
    x: { min: -0.255, max: 6, ticks: xTicks6, minor: xMinor6, dec: 0 },
    y: { min: 0, max: 1.09, ticks: aYTicks, minor: aYMinor, dec: 1 }, r: 3.1,
    xTitle: X_TITLE, xTitleY: 300, xTitleSize: 15, yTitle: V_TITLE, yTitleX: 22, yTitleSize: 15,
    series: [S(aK1, BLACK, true), S(aK0, BLACK, false), S(aR1, RED, true), S(aR0, RED, false), S(aO1, ORANGE, true), S(aO0, ORANGE, false), S(aB1, BLUE, true), S(aB0, BLUE, false), S(aL1, LBLUE, true), S(aL0, LBLUE, false)],
    legend: { h1: '0 bar', h2: '1.3 bar', h1x: 212, h2x: 241, hy: 31, rows: [43.3, 57.3, 71, 84.7, 98.3], labels: PFBP_LABELS, colors: PT_COLORS, f0: 211, f1: 237, fm: 224, o0: 240, o1: 267, om: 257, tx: 268, size: 10.3 },
    tag: { text: 'Pt/C', x: 85, y: 37, size: 16 },
    cond: { segs: COND_LONG, x0: 90, x1: 317, y: 248, size: 11.5 },
  },
  {
    id: 'b', box: { l: 378, t: 0, w: 399, h: 320 }, frame: { L: 430, T: 22, R: 730, B: 272 },
    x: { min: -0.3, max: 6, ticks: xTicks6, minor: xMinor6, dec: 0 },
    y: { min: -0.245, max: 2.2, ticks: pwTicks, minor: pwMinor, dec: 1 },
    y1: { min: 0.0165, max: 0.5, ticks: bHfrTicks, minor: bHfrMinor, dec: 1 }, r: 3.1,
    xTitle: X_TITLE, xTitleY: 305, xTitleSize: 15, yTitle: P_TITLE, yTitleX: 395.5, yTitleSize: 17,
    y1Title: { text: HFR_TITLE, x: 766, y: 150, size: 15.5 },
    series: [S(bK1, BLACK, true), S(bK0, BLACK, false), S(bR1, RED, true), S(bR0, RED, false), S(bO1, ORANGE, true), S(bO0, ORANGE, false), S(bB1, BLUE, true), S(bB0, BLUE, false), S(bL1, LBLUE, true), S(bL0, LBLUE, false),
      S(bHK1, BLACK, true, true, true), S(bHK0, BLACK, false, true, true), S(bHR1, RED, true, true, true), S(bHR0, RED, false, true, true), S(bHO1, ORANGE, true, true, true), S(bHO0, ORANGE, false, true, true)],
    legend: { h1: '0 bar', h2: '1.3 bar', h1x: 435, h2x: 468, hy: 30, rows: [39, 52.5, 66, 79.5, 93.5], labels: PFBP_LABELS, colors: PT_COLORS, f0: 435, f1: 458, fm: 447, o0: 463, o1: 491, om: 477, tx: 492, size: 10.9 },
    tag: { text: 'Pt/C', x: 678, y: 40, size: 16 },
    cond: { segs: COND_SHORT, x0: 560, x1: 713, y: 228, size: 11.5 },
  },
  {
    id: 'c', box: { l: 0, t: 300, w: 388, h: 320 }, frame: { L: 54, T: 315, R: 348, B: 565 },
    x: { min: -0.286, max: 5.435, ticks: xTicks5, minor: xMinor5, dec: 0 },
    y: { min: 0.102, max: 1.107, ticks: cYTicks, minor: cYMinor, dec: 1 }, r: 3.1,
    xTitle: X_TITLE, xTitleY: 600, xTitleSize: 15, yTitle: V_TITLE, yTitleX: 22, yTitleSize: 15,
    series: [S(cK1, BLACK, true), S(cK0, BLACK, false), S(cR1, RED, true), S(cR0, RED, false), S(cO1, ORANGE, true), S(cO0, ORANGE, false), S(cB1, BLUE, true), S(cB0, BLUE, false), S(cL1, LBLUE, true), S(cL0, LBLUE, false)],
    legend: { h1: '0 bar', h2: '1.3 bar', h1x: 213, h2x: 242, hy: 327, rows: [341.7, 355.3, 369, 382.7, 396.7], labels: PFTP_LABELS, colors: PT_COLORS, f0: 212, f1: 238, fm: 225, o0: 241, o1: 267, om: 257, tx: 268, size: 10.2 },
    tag: { text: 'Pt/C', x: 73, y: 332, size: 16 },
    cond: { segs: COND_LONG, x0: 85, x1: 313, y: 541, size: 11.5 },
    extra: [{ text: '% (11)', x: 250, y: 410, size: 9, color: '#50509a' }],
  },
  {
    id: 'd', box: { l: 378, t: 300, w: 399, h: 320 }, frame: { L: 430, T: 320, R: 730, B: 569 },
    x: { min: -0.5, max: 5.49, ticks: xTicks5, minor: xMinor5, dec: 0 },
    y: { min: -0.245, max: 2.198, ticks: pwTicks, minor: pwMinor, dec: 1 },
    y1: { min: 0.009, max: 0.8, ticks: dHfrTicks, minor: dHfrMinor, dec: 1 }, r: 3.1,
    xTitle: X_TITLE, xTitleY: 604, xTitleSize: 15, yTitle: P_TITLE, yTitleX: 396, yTitleSize: 17,
    y1Title: { text: HFR_TITLE, x: 767, y: 452, size: 15.5 },
    series: [S(dK1, BLACK, true), S(dK0, BLACK, false), S(dR1, RED, true), S(dR0, RED, false), S(dO1, ORANGE, true), S(dO0, ORANGE, false), S(dB1, BLUE, true), S(dB0, BLUE, false), S(dL1, LBLUE, true), S(dL0, LBLUE, false),
      S(dHK1, BLACK, true, true, true), S(dHK0, BLACK, false, true, true), S(dHR1, RED, true, true, true), S(dHR0, RED, false, true, true), S(dHO1, ORANGE, true, true, true), S(dHO0, ORANGE, false, true, true)],
    legend: { h1: '0 bar', h2: '1.3 bar', h1x: 441, h2x: 470, hy: 330, rows: [343.3, 357.3, 371, 385, 399], labels: PFTP_LABELS, colors: PT_COLORS, f0: 440, f1: 465, fm: 453, o0: 468, o1: 495, om: 483, tx: 496, size: 10.7 },
    tag: { text: 'Pt/C', x: 688, y: 335, size: 16 },
    cond: { segs: COND_SHORT, x0: 537, x1: 693, y: 515, size: 11.5 },
  },
  {
    id: 'e', box: { l: 0, t: 605, w: 388, h: 318 }, frame: { L: 58, T: 627, R: 353, B: 873 },
    x: { min: -0.24, max: 8, ticks: xTicks8, minor: xMinor8, dec: 0 },
    y: { min: 0.154, max: 1.1, ticks: eYTicks, minor: eYMinor, dec: 1 }, r: 3.5,
    xTitle: X_TITLE, xTitleY: 912, xTitleSize: 16.8, yTitle: V_TITLE, yTitleX: 24, yTitleSize: 16.3,
    series: [S(eR1, RED, true), S(eR0, RED, false), S(eO1, ORANGE, true), S(eO0, ORANGE, false), S(eP1, PURPLE, true), S(eP0, PURPLE, false), S(eL1, LBLUE, true), S(eL0, LBLUE, false)],
    legend: { h1: '0 bar', h2: '1 bar', h1x: 210, h2x: 238, hy: 638, rows: [650, 664.3, 677.5, 691], labels: RU_LABELS, colors: RU_COLORS, f0: 210, f1: 235, fm: 223, o0: 238, o1: 264, om: 253, tx: 265, size: 10.7 },
    tag: { text: 'PtRu/C', x: 68, y: 638, size: 15 },
    cond: { segs: COND_LONG, x0: 83, x1: 337, y: 862, size: 13 },
  },
  {
    id: 'f', box: { l: 378, t: 605, w: 399, h: 318 }, frame: { L: 435, T: 627, R: 730, B: 873 },
    x: { min: -0.243, max: 8, ticks: xTicks8, minor: xMinor8, dec: 0 },
    y: { min: -0.136, max: 3.0, ticks: fYTicks, minor: fYMinor, dec: 1 }, r: 3.5,
    xTitle: X_TITLE, xTitleY: 911, xTitleSize: 16.8, yTitle: V_TITLE, yTitleX: 400, yTitleSize: 16.8,
    series: [S(fR1, RED, true), S(fR0, RED, false), S(fO1, ORANGE, true), S(fO0, ORANGE, false), S(fP1, PURPLE, true), S(fP0, PURPLE, false), S(fL1, LBLUE, true), S(fL0, LBLUE, false)],
    legend: { h1: '0 bar', h2: '1 bar', h1x: 438, h2x: 468, hy: 636, rows: [648.3, 661.7, 675.7, 689], labels: RU_LABELS, colors: RU_COLORS, f0: 438, f1: 462, fm: 451, o0: 466, o1: 490, om: 480, tx: 491, size: 11.2 },
    tag: { text: 'PtRu/C', x: 671, y: 638, size: 15.6 },
    cond: { segs: COND_LONG, x0: 473, x1: 726, y: 859, size: 13 },
  },
];

const LETTERS: [string, number, number][] = [['a', 0.5, 27], ['b', 374.5, 27], ['c', 0.5, 320], ['d', 372.5, 320], ['e', 0.5, 619], ['f', 376, 617]];

// ================= drawing helpers =================
function drawRich(ctx: CanvasRenderingContext2D, segs: Seg[], x0: number, x1: number, y: number, base: number) {
  const fontFor = (m: number, size: number) => `bold ${m ? size * 0.62 : size}px ${FONT}`;
  let w = 0;
  for (const [t, m] of segs) { ctx.font = fontFor(m, base); w += ctx.measureText(t).width; }
  const size = base * (x1 - x0) / w;
  let x = x0;
  ctx.textAlign = 'left';
  ctx.textBaseline = 'middle';
  ctx.fillStyle = '#000';
  for (const [t, m] of segs) {
    ctx.font = fontFor(m, size);
    const dy = m === 1 ? size * 0.3 : m === 2 ? -size * 0.36 : 0;
    ctx.fillText(t, x, y + dy);
    x += ctx.measureText(t).width;
  }
}

function makeDecor(p: Panel) {
  return {
    id: 'decor',
    afterDraw(chart: any) {
      const ctx: CanvasRenderingContext2D = chart.ctx;
      const a = chart.chartArea;
      const ox = p.box.l, oy = p.box.t;
      const xs = chart.scales.x, ys = chart.scales.y, y1s = chart.scales.y1;
      ctx.save();
      const line = (x1: number, y1: number, x2: number, y2: number) => { ctx.beginPath(); ctx.moveTo(x1, y1); ctx.lineTo(x2, y2); ctx.stroke(); };
      ctx.strokeStyle = '#000';
      ctx.lineWidth = 1.2;
      for (const v of p.x.ticks) { const px = xs.getPixelForValue(v); line(px, a.bottom, px, a.bottom - 5); }
      for (const v of p.x.minor) { const px = xs.getPixelForValue(v); line(px, a.bottom, px, a.bottom - 3); }
      for (const v of p.y.ticks) { const py = ys.getPixelForValue(v); line(a.left, py, a.left + 5, py); }
      for (const v of p.y.minor) { const py = ys.getPixelForValue(v); line(a.left, py, a.left + 3, py); }
      if (y1s && p.y1) {
        ctx.strokeStyle = '#141470';
        for (const v of p.y1.ticks) { const py = y1s.getPixelForValue(v); line(a.right, py, a.right + 5, py); }
        for (const v of p.y1.minor) { const py = y1s.getPixelForValue(v); line(a.right, py, a.right + 3, py); }
      }
      ctx.strokeStyle = '#000';
      ctx.lineWidth = 1.5;
      ctx.strokeRect(a.left, a.top, a.right - a.left, a.bottom - a.top);

      // legend
      const L = p.legend;
      ctx.textAlign = 'left';
      ctx.textBaseline = 'middle';
      ctx.font = `bold ${L.size - 0.3}px ${FONT}`;
      ctx.fillStyle = '#000';
      ctx.fillText(L.h1, L.h1x - ox, L.hy - oy);
      ctx.fillText(L.h2, L.h2x - ox, L.hy - oy);
      ctx.font = `bold ${L.size}px ${FONT}`;
      L.labels.forEach((lab, i) => {
        const y = L.rows[i] - oy;
        const c = L.colors[i];
        ctx.strokeStyle = c;
        ctx.lineWidth = 1.3;
        line(L.f0 - ox, y, L.f1 - ox, y);
        line(L.o0 - ox, y, L.o1 - ox, y);
        ctx.beginPath(); ctx.arc(L.fm - ox, y, p.r, 0, Math.PI * 2); ctx.fillStyle = c; ctx.fill();
        ctx.beginPath(); ctx.arc(L.om - ox, y, p.r, 0, Math.PI * 2); ctx.fillStyle = '#fff'; ctx.fill(); ctx.lineWidth = 1.2; ctx.stroke();
        ctx.fillStyle = c;
        ctx.fillText(lab, L.tx - ox, y);
      });

      // catalyst tag
      ctx.font = `bold ${p.tag.size}px ${FONT}`;
      ctx.fillStyle = TAGBLUE;
      ctx.fillText(p.tag.text, p.tag.x - ox, p.tag.y - oy);

      // condition text
      drawRich(ctx, p.cond.segs, p.cond.x0 - ox, p.cond.x1 - ox, p.cond.y - oy, p.cond.size);

      if (p.extra) {
        for (const e of p.extra) {
          ctx.font = `bold ${e.size}px ${FONT}`;
          ctx.fillStyle = e.color;
          ctx.textAlign = 'left';
          ctx.fillText(e.text, e.x - ox, e.y - oy);
        }
      }

      if (p.y1Title) {
        const t = p.y1Title;
        ctx.save();
        ctx.translate(t.x - ox, t.y - oy);
        ctx.rotate(-Math.PI / 2);
        ctx.font = `bold ${t.size}px ${FONT}`;
        ctx.fillStyle = '#000';
        ctx.textAlign = 'center';
        ctx.textBaseline = 'middle';
        ctx.fillText(t.text, 0, 0);
        ctx.restore();
      }
      ctx.restore();
    },
  };
}

function axisOptions(ax: Axis, pad: number, extra: any) {
  return {
    type: 'linear',
    min: ax.min,
    max: ax.max,
    afterBuildTicks: (s: any) => { s.ticks = ax.ticks.map((v) => ({ value: v })); },
    ticks: {
      autoSkip: false, maxRotation: 0, minRotation: 0, padding: pad, color: '#000',
      font: { family: FONT, size: 12, weight: 'bold' },
      callback: (v: any) => Number(v).toFixed(ax.dec),
    },
    grid: { display: false, drawTicks: false },
    border: { display: false },
    ...extra,
  };
}

function buildConfig(p: Panel): any {
  const { box, frame } = p;
  const xlh = p.xTitleSize * 1.2;
  const ylh = p.yTitleSize * 1.2;
  const scales: any = {
    x: axisOptions(p.x, 4, {
      position: 'bottom',
      afterFit: (s: any) => { s.height = box.t + box.h - frame.B; },
      title: { display: true, text: p.xTitle, color: '#000', font: { family: FONT, size: p.xTitleSize, weight: 'bold' }, padding: { top: 0, bottom: box.t + box.h - p.xTitleY - xlh / 2 } },
    }),
    y: axisOptions(p.y, 5, {
      position: 'left',
      afterFit: (s: any) => { s.width = frame.L - box.l; },
      title: { display: true, text: p.yTitle, color: '#000', font: { family: FONT, size: p.yTitleSize, weight: 'bold' }, padding: { top: p.yTitleX - box.l - ylh / 2, bottom: 0 } },
    }),
  };
  if (p.y1) {
    scales.y1 = axisOptions(p.y1, 8, {
      position: 'right',
      afterFit: (s: any) => { s.width = box.l + box.w - frame.R; },
    });
  }
  const datasets = p.series.map((s) => ({
    data: s.d.map(([x, y]) => ({ x, y })),
    showLine: true,
    borderColor: s.c,
    borderWidth: 1,
    backgroundColor: s.open ? '#ffffff' : s.c,
    pointBackgroundColor: s.open ? '#ffffff' : s.c,
    pointBorderColor: s.c,
    pointBorderWidth: s.open ? 1.2 : 0.8,
    pointRadius: s.small ? 2 : p.r,
    pointHoverRadius: s.small ? 2 : p.r,
    yAxisID: s.y1 ? 'y1' : 'y',
    tension: 0,
  }));
  return {
    type: 'scatter',
    data: { datasets },
    options: {
      responsive: false,
      animation: false,
      events: [],
      layout: { padding: { left: 0, top: frame.T - box.t, right: p.y1 ? 0 : box.l + box.w - frame.R, bottom: 0 } },
      plugins: { legend: { display: false }, tooltip: { enabled: false }, title: { display: false } },
      scales,
    },
    plugins: [makeDecor(p)],
  };
}

function PanelChart({ p }: { p: Panel }) {
  const ref = useRef<HTMLCanvasElement>(null);
  useEffect(() => {
    if (!ref.current) return;
    const chart = new Chart(ref.current, buildConfig(p));
    return () => chart.destroy();
  }, [p]);
  return (
    <div style={{ position: 'absolute', left: p.box.l, top: p.box.t, width: p.box.w, height: p.box.h }}>
      <canvas ref={ref} width={p.box.w} height={p.box.h} style={{ width: p.box.w, height: p.box.h, display: 'block' }} />
    </div>
  );
}

export default function App() {
  useEffect(() => {
    document.body.style.margin = '0';
    document.body.style.background = '#ffffff';
  }, []);
  return (
    <div style={{ position: 'absolute', left: 0, top: 0, width: 777, height: 923, background: '#ffffff', overflow: 'hidden' }}>
      {PANELS.map((p) => <PanelChart key={p.id} p={p} />)}
      {LETTERS.map(([ch, x, base]) => (
        <div key={ch} style={{ position: 'absolute', left: x, top: base - 28.8, fontFamily: FONT, fontWeight: 'bold', fontSize: 34, lineHeight: '34px', color: '#000' }}>{ch}</div>
      ))}
    </div>
  );
}
